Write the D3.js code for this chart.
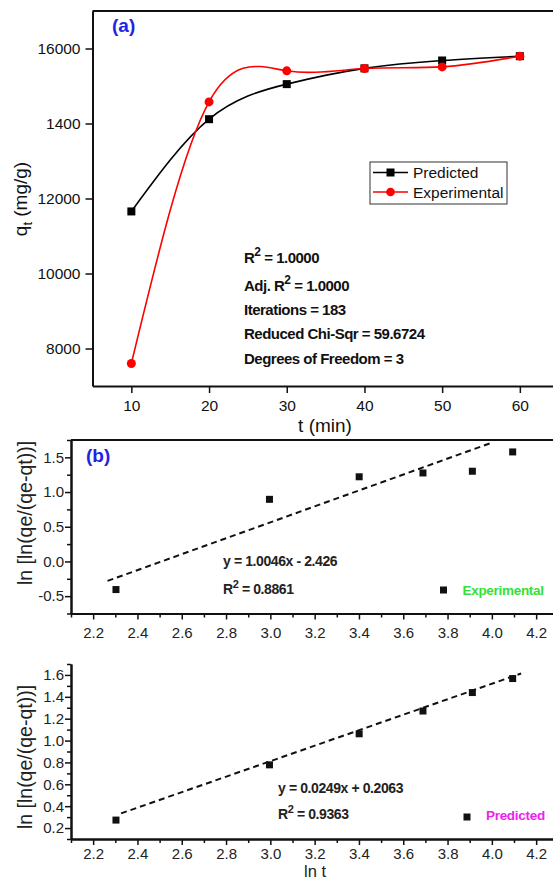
<!DOCTYPE html>
<html>
<head>
<meta charset="utf-8">
<script src="https://cdn.jsdelivr.net/npm/d3@7"></script>
<style>
body{margin:0;background:#fff;}
svg{display:block;font-family:"Liberation Sans",Arial,sans-serif;}
</style>
</head>
<body>
<div id="chart"></div>
<script>
// ---- panel (a): qt vs time
var times = [10, 20, 30, 40, 50, 60];
var predicted = [11655, 14115, 15050, 15470, 15680, 15795];
var experimental = [7600, 14575, 15405, 15465, 15510, 15795];
var qtTicks = [8000, 10000, 12000, 14000, 16000];
var qtTickLabels = ["8000", "10000", "12000", "1400", "16000"];
var timeTicks = [10, 20, 30, 40, 50, 60];

// ---- panels (b) and (c): ln[ln(qe/(qe-qt))] vs ln t
var lnT = [2.303, 2.996, 3.401, 3.689, 3.912, 4.094];
var lnExp = [-0.405, 0.895, 1.22, 1.275, 1.30, 1.578];
var lnPred = [0.273, 0.778, 1.062, 1.27, 1.439, 1.567];
// dashed fit lines as drawn (end points)
var fitExpX = [2.265, 3.99];
var fitExpY = [-0.28, 1.70];
var fitPredX = [2.326, 4.132];
var fitPredY = [0.334, 1.613];
var lnTicks = [2.2, 2.4, 2.6, 2.8, 3.0, 3.2, 3.4, 3.6, 3.8, 4.0, 4.2];
var expTicks = [-0.5, 0.0, 0.5, 1.0, 1.5];
var predTicks = [0.2, 0.4, 0.6, 0.8, 1.0, 1.2, 1.4, 1.6];

var blue = "#2222e6";

var svg = d3.select("#chart").append("svg")
    .attr("width", 553)
    .attr("height", 881);
svg.append("rect").attr("width", 553).attr("height", 881).attr("fill", "#fff");

function styleAxis(g, size, color){
    g.attr("font-size", size)
        .attr("font-family", "'Liberation Sans', Arial, sans-serif");
    g.select(".domain").attr("stroke", "#111").attr("stroke-width", 2);
    g.selectAll(".tick line").attr("stroke", "#111").attr("stroke-width", 1.5);
    g.selectAll(".tick text").attr("fill", color || "#111");
}

// ================= panel (a)
var xA = d3.scaleLinear().domain([5, 65]).range([92.5, 558.7]);
var yA = d3.scaleLinear().domain([7000, 17000]).range([386, 11]);
var gA = svg.append("g");

gA.append("g")
    .attr("transform", "translate(0," + yA(7000) + ")")
    .call(d3.axisBottom(xA).tickValues(timeTicks).tickSize(7).tickSizeOuter(0).tickPadding(7))
    .call(styleAxis, 15.5);
gA.append("g")
    .attr("transform", "translate(" + xA(5) + ",0)")
    .call(d3.axisLeft(yA).tickValues(qtTicks)
        .tickFormat(function(d, i){ return qtTickLabels[i]; })
        .tickSize(7).tickSizeOuter(0).tickPadding(5))
    .call(styleAxis, 15.5);
gA.append("line")
    .attr("x1", xA(5)).attr("x2", xA(65))
    .attr("y1", yA(17000)).attr("y2", yA(17000))
    .attr("stroke", "#111").attr("stroke-width", 2);

var lineA = d3.line()
    .x(function(d, i){ return xA(times[i]); })
    .y(function(d){ return yA(d); })
    .curve(d3.curveNatural);

gA.append("path").datum(predicted)
    .attr("d", lineA).attr("fill", "none")
    .attr("stroke", "#000").attr("stroke-width", 1.6);
gA.append("path").datum(experimental)
    .attr("d", lineA).attr("fill", "none")
    .attr("stroke", "#ff0000").attr("stroke-width", 1.6);

gA.selectAll(".sq").data(predicted).enter().append("rect")
    .attr("x", function(d, i){ return xA(times[i]) - 4; })
    .attr("y", function(d){ return yA(d) - 4; })
    .attr("width", 8).attr("height", 8)
    .attr("fill", "#000");
gA.selectAll(".dot").data(experimental).enter().append("circle")
    .attr("cx", function(d, i){ return xA(times[i]); })
    .attr("cy", function(d){ return yA(d); })
    .attr("r", 4.5)
    .attr("fill", "#ff0000");

gA.append("text").attr("x", 112).attr("y", 32)
    .attr("font-size", 19).attr("font-weight", "bold")
    .attr("fill", blue).text("(a)");

// legend
var leg = gA.append("g");
leg.append("rect").attr("x", 370).attr("y", 162).attr("width", 137).attr("height", 42)
    .attr("fill", "#fff").attr("stroke", "#333").attr("stroke-width", 1);
leg.append("line").attr("x1", 373).attr("x2", 408).attr("y1", 172.5).attr("y2", 172.5)
    .attr("stroke", "#000").attr("stroke-width", 1.6);
leg.append("rect").attr("x", 386.5).attr("y", 168.5).attr("width", 8).attr("height", 8).attr("fill", "#000");
leg.append("line").attr("x1", 373).attr("x2", 408).attr("y1", 192).attr("y2", 192)
    .attr("stroke", "#ff0000").attr("stroke-width", 1.6);
leg.append("circle").attr("cx", 390.5).attr("cy", 192).attr("r", 4.3).attr("fill", "#ff0000");
leg.append("text").attr("x", 413).attr("y", 178).attr("font-size", 15.5).attr("fill", "#111").text("Predicted");
leg.append("text").attr("x", 413).attr("y", 197.5).attr("font-size", 15.5).attr("fill", "#111").text("Experimental");

// fit statistics
var stats = gA.append("g").attr("font-size", 15).attr("font-weight", "bold")
    .attr("letter-spacing", "-0.5").attr("fill", "#111");
var t1 = stats.append("text").attr("x", 244).attr("y", 262.5);
t1.append("tspan").text("R");
t1.append("tspan").attr("dy", -7).attr("font-size", 12).text("2");
t1.append("tspan").attr("dy", 7).text(" = 1.0000");
var t2 = stats.append("text").attr("x", 244).attr("y", 290.5);
t2.append("tspan").text("Adj. R");
t2.append("tspan").attr("dy", -7).attr("font-size", 12).text("2");
t2.append("tspan").attr("dy", 7).text(" = 1.0000");
stats.append("text").attr("x", 244).attr("y", 315).text("Iterations = 183");
stats.append("text").attr("x", 244).attr("y", 339.3).text("Reduced Chi-Sqr = 59.6724");
stats.append("text").attr("x", 244).attr("y", 364).text("Degrees of Freedom = 3");

// axis titles
var yt = gA.append("text")
    .attr("transform", "translate(27,199) rotate(-90)")
    .attr("text-anchor", "middle").attr("font-size", 19).attr("fill", "#111");
yt.append("tspan").text("q");
yt.append("tspan").attr("dy", 5).attr("font-size", 13).text("t");
yt.append("tspan").attr("dy", -5).text(" (mg/g)");
gA.append("text").attr("x", 325).attr("y", 432)
    .attr("text-anchor", "middle").attr("font-size", 19).attr("fill", "#111")
    .text("t (min)");

// ================= panels (b) and (c)
var xL = d3.scaleLinear().domain([2.1, 4.3]).range([71, 558.3]);
var fmt1 = function(d){ return d.toFixed(1); };

function lnPanel(yDom, yRange, yTicks, yMinor, pts, fitX, fitY, showTop, padX){
    var y = d3.scaleLinear().domain(yDom).range(yRange);
    var g = svg.append("g");
    g.append("g")
        .attr("transform", "translate(0," + y(yDom[0]) + ")")
        .call(d3.axisBottom(xL).tickValues(d3.range(2.1, 4.35, 0.2)).tickSize(4).tickSizeOuter(0).tickFormat(""))
        .call(styleAxis, 15);
    g.append("g")
        .attr("transform", "translate(0," + y(yDom[0]) + ")")
        .call(d3.axisBottom(xL).tickValues(lnTicks).tickFormat(fmt1).tickSize(6).tickSizeOuter(0).tickPadding(padX))
        .call(styleAxis, 15, "#222");
    g.append("g")
        .attr("transform", "translate(" + xL(2.1) + ",0)")
        .call(d3.axisLeft(y).tickValues(yMinor).tickSize(4).tickSizeOuter(0).tickFormat(""))
        .call(styleAxis, 15);
    g.append("g")
        .attr("transform", "translate(" + xL(2.1) + ",0)")
        .call(d3.axisLeft(y).tickValues(yTicks).tickFormat(fmt1).tickSize(6).tickSizeOuter(0).tickPadding(1))
        .call(styleAxis, 15, "#222");
    if(showTop){
        g.append("line")
            .attr("x1", xL(2.1)).attr("x2", xL(4.3))
            .attr("y1", y(yDom[1])).attr("y2", y(yDom[1]))
            .attr("stroke", "#111").attr("stroke-width", 2);
    }
    g.append("line")
        .attr("x1", xL(fitX[0])).attr("x2", xL(fitX[1]))
        .attr("y1", y(fitY[0])).attr("y2", y(fitY[1]))
        .attr("stroke", "#111").attr("stroke-width", 2)
        .attr("stroke-dasharray", "6,4");
    g.selectAll(".pt").data(pts).enter().append("rect")
        .attr("x", function(d, i){ return xL(lnT[i]) - 3.5; })
        .attr("y", function(d){ return y(d) - 3.5; })
        .attr("width", 7).attr("height", 7)
        .attr("fill", "#111");
    return g;
}

function eqText(g, x, y1, y2, eq, r2){
    var t = g.append("g").attr("font-size", 14).attr("font-weight", "bold")
        .attr("letter-spacing", "-0.4").attr("fill", "#222");
    t.append("text").attr("x", x).attr("y", y1).text(eq);
    var r = t.append("text").attr("x", x).attr("y", y2);
    r.append("tspan").text("R");
    r.append("tspan").attr("dy", -6).attr("font-size", 11).text("2");
    r.append("tspan").attr("dy", 6).text(" = " + r2);
}

function yLabel(g, cy){
    g.append("text")
        .attr("transform", "translate(32," + cy + ") rotate(-90)")
        .attr("text-anchor", "middle").attr("font-size", 19.5).attr("fill", "#222")
        .text("ln [ln(qe/(qe-qt))]");
}

// (b) experimental
var gB = lnPanel([-0.75, 1.75], [613.5, 440], expTicks,
    [-0.75, -0.25, 0.25, 0.75, 1.25, 1.75], lnExp, fitExpX, fitExpY, true, 8);
gB.append("text").attr("x", 86).attr("y", 462)
    .attr("font-size", 19).attr("font-weight", "bold").attr("fill", blue).text("(b)");
eqText(gB, 223, 566, 593.5, "y = 1.0046x - 2.426", "0.8861");
gB.append("rect").attr("x", 440).attr("y", 586.5).attr("width", 7).attr("height", 7).attr("fill", "#111");
gB.append("text").attr("x", 462.5).attr("y", 595).attr("font-size", 13.5).attr("font-weight", "bold")
    .attr("letter-spacing", "-0.3").attr("fill", "#33e033").text("Experimental");
yLabel(gB, 513);

// (c) predicted
var gC = lnPanel([0.1, 1.7], [839, 664], predTicks,
    [0.1, 0.3, 0.5, 0.7, 0.9, 1.1, 1.3, 1.5, 1.7], lnPred, fitPredX, fitPredY, false, 3);
eqText(gC, 278, 792.5, 819, "y = 0.0249x + 0.2063", "0.9363");
gC.append("rect").attr("x", 463.5).attr("y", 813.5).attr("width", 7).attr("height", 7).attr("fill", "#111");
gC.append("text").attr("x", 486).attr("y", 820).attr("font-size", 13.5).attr("font-weight", "bold")
    .attr("letter-spacing", "-0.3").attr("fill", "#ee22ee").text("Predicted");
yLabel(gC, 757);
gC.append("text").attr("x", 315).attr("y", 877.3)
    .attr("text-anchor", "middle").attr("font-size", 16.5).attr("fill", "#222")
    .text("ln t");
</script>
</body>
</html>
